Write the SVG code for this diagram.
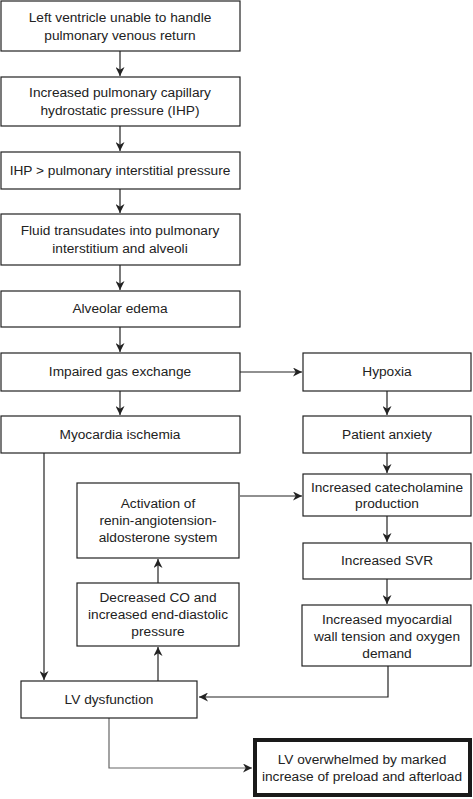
<svg xmlns="http://www.w3.org/2000/svg" width="473" height="799" viewBox="0 0 473 799">
<style>
.b{fill:#fff;stroke:#222;stroke-width:1.2}
.bt{fill:#fff;stroke:#1a1a1a;stroke-width:4}
.t{font-family:"Liberation Sans",Arial,sans-serif;font-size:13.7px;fill:#222;text-anchor:middle}
.c{fill:none;stroke:#222;stroke-width:1.2}
</style>
<defs>
<marker id="a" viewBox="0 0 10 10" refX="10" refY="5" markerWidth="9" markerHeight="9" markerUnits="userSpaceOnUse" orient="auto">
<path d="M0,0 L10,5 L0,10 L3,5 Z" fill="#222"/>
</marker>
</defs>
<rect width="473" height="799" fill="#fff"/>
<g id="connectors">
<path class="c" d="M120,51 V76" marker-end="url(#a)"/>
<path class="c" d="M120,126 V151" marker-end="url(#a)"/>
<path class="c" d="M120,189 V213" marker-end="url(#a)"/>
<path class="c" d="M120,265 V290" marker-end="url(#a)"/>
<path class="c" d="M120,327 V352" marker-end="url(#a)"/>
<path class="c" d="M120,391 V415" marker-end="url(#a)"/>
<path class="c" d="M240,372 H302" marker-end="url(#a)"/>
<path class="c" d="M387,391 V415" marker-end="url(#a)"/>
<path class="c" d="M387,453 V473" marker-end="url(#a)"/>
<path class="c" d="M240,496 H302" marker-end="url(#a)"/>
<path class="c" d="M387,516 V542" marker-end="url(#a)"/>
<path class="c" d="M387,579 V604" marker-end="url(#a)"/>
<path class="c" d="M44,453 V680" marker-end="url(#a)"/>
<path class="c" d="M158,681 V647" marker-end="url(#a)"/>
<path class="c" d="M158,583 V559" marker-end="url(#a)"/>
<path class="c" d="M388,666 V697 H199" marker-end="url(#a)"/>
<path class="c" d="M109,718 V768 H252" style="stroke:#666" marker-end="url(#a)"/>
</g>
<g id="n1"><rect class="b" x="1" y="1" width="239" height="50"/><text class="t" x="120" y="22">Left ventricle unable to handle</text><text class="t" x="120" y="40">pulmonary venous return</text></g>
<g id="n2"><rect class="b" x="1" y="77" width="239" height="49"/><text class="t" x="120" y="97">Increased pulmonary capillary</text><text class="t" x="120" y="115">hydrostatic pressure (IHP)</text></g>
<g id="n3"><rect class="b" x="1" y="152" width="239" height="37"/><text class="t" x="120" y="175">IHP &gt; pulmonary interstitial pressure</text></g>
<g id="n4"><rect class="b" x="1" y="214" width="239" height="51"/><text class="t" x="120" y="235">Fluid transudates into pulmonary</text><text class="t" x="120" y="253">interstitium and alveoli</text></g>
<g id="n5"><rect class="b" x="1" y="291" width="239" height="36"/><text class="t" x="120" y="313">Alveolar edema</text></g>
<g id="n6"><rect class="b" x="1" y="353" width="239" height="38"/><text class="t" x="120" y="376">Impaired gas exchange</text></g>
<g id="n7"><rect class="b" x="303" y="353" width="168" height="38"/><text class="t" x="387" y="376">Hypoxia</text></g>
<g id="n8"><rect class="b" x="1" y="416" width="239" height="37"/><text class="t" x="120" y="439">Myocardia ischemia</text></g>
<g id="n9"><rect class="b" x="303" y="416" width="168" height="37"/><text class="t" x="387" y="439">Patient anxiety</text></g>
<g id="n10"><rect class="b" x="303" y="474" width="168" height="42"/><text class="t" x="387" y="492">Increased catecholamine</text><text class="t" x="387" y="508">production</text></g>
<g id="n11"><rect class="b" x="77" y="483" width="162" height="75"/><text class="t" x="158" y="508">Activation of</text><text class="t" x="158" y="525">renin-angiotension-</text><text class="t" x="158" y="542">aldosterone system</text></g>
<g id="n12"><rect class="b" x="303" y="543" width="168" height="36"/><text class="t" x="387" y="565">Increased SVR</text></g>
<g id="n13"><rect class="b" x="77" y="583" width="162" height="63"/><text class="t" x="158" y="602">Decreased CO and</text><text class="t" x="158" y="619">increased end-diastolic</text><text class="t" x="158" y="636">pressure</text></g>
<g id="n14"><rect class="b" x="302" y="605" width="169" height="61"/><text class="t" x="387" y="624">Increased myocardial</text><text class="t" x="387" y="641">wall tension and oxygen</text><text class="t" x="387" y="658">demand</text></g>
<g id="n15"><rect class="b" x="21" y="681" width="176" height="37"/><text class="t" x="109" y="704">LV dysfunction</text></g>
<g id="n16"><rect class="bt" x="255" y="740" width="215" height="55"/><text class="t" x="362" y="764">LV overwhelmed by marked</text><text class="t" x="362" y="781">increase of preload and afterload</text></g>
</svg>
